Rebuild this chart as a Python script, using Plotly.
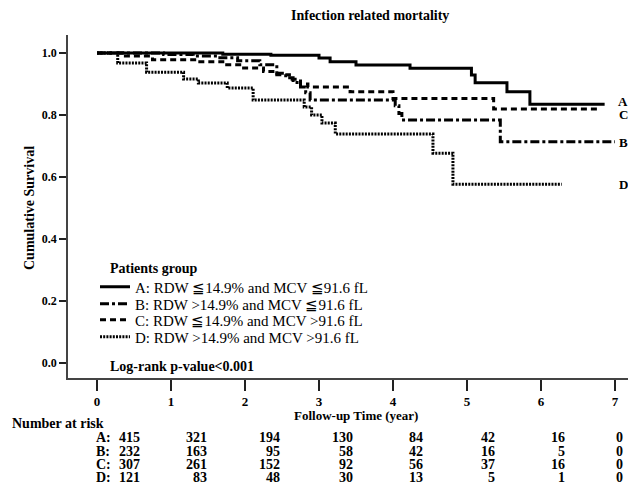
import plotly.graph_objects as go

# ---------------- data ----------------
groups = ["A", "B", "C", "D"]
legend_names = [
    "A: RDW \u226614.9% and MCV \u226691.6 fL",
    "B: RDW >14.9% and MCV \u226691.6 fL",
    "C: RDW \u226614.9% and MCV >91.6 fL",
    "D: RDW >14.9% and MCV >91.6 fL",
]
time_A = [0, 1.7, 2.35, 3.0, 3.15, 3.5, 4.23, 5.06, 5.11, 5.54, 5.85]
surv_A = [1.0, 0.996, 0.993, 0.984, 0.972, 0.961, 0.951, 0.929, 0.904, 0.875, 0.835]
end_A = 6.86

time_B = [0, 0.9, 1.3, 1.6, 1.9, 2.2, 2.43, 2.55, 2.65, 2.75, 2.82, 2.88, 4.03, 4.08, 4.12, 5.45]
surv_B = [1.0, 0.995, 0.99, 0.985, 0.975, 0.962, 0.935, 0.92, 0.905, 0.89, 0.872, 0.848, 0.83, 0.805, 0.784, 0.714]
end_B = 7.0

time_C = [0, 0.35, 0.75, 1.35, 1.7, 1.95, 2.25, 2.4, 2.6, 2.75, 2.85, 3.42, 4.0, 5.36]
surv_C = [1.0, 0.99, 0.978, 0.972, 0.962, 0.952, 0.94, 0.93, 0.915, 0.90, 0.89, 0.875, 0.853, 0.819]
end_C = 6.8

time_D = [0, 0.28, 0.67, 1.17, 1.37, 1.76, 2.11, 2.8, 2.9, 3.04, 3.22, 4.54, 4.81]
surv_D = [1.0, 0.968, 0.938, 0.916, 0.903, 0.887, 0.848, 0.826, 0.80, 0.774, 0.739, 0.677, 0.577]
end_D = 6.28

risk_times = [0, 1, 2, 3, 4, 5, 6, 7]
risk_A = [415, 321, 194, 130, 84, 42, 16, 0]
risk_B = [232, 163, 95, 58, 42, 16, 5, 0]
risk_C = [307, 261, 152, 92, 56, 37, 16, 0]
risk_D = [121, 83, 48, 30, 13, 5, 1, 0]

y_ticks = [0.0, 0.2, 0.4, 0.6, 0.8, 1.0]
x_ticks = [0, 1, 2, 3, 4, 5, 6, 7]

# ---------------- layout helpers ----------------
OFF = 8                      # page body margin of the browser
SW, SH = 636, 500            # screen size
W, H = SW - OFF, SH - 2 * OFF    # figure size (no page scrolling)
# plot area in screen pixels
PL, PR, PT, PB = 68, 630, 35, 378
ML, MR, MT, MB = PL - OFF, (OFF + W) - PR, PT - OFF, (OFF + H) - PB
PW, PH = PR - PL, PB - PT

def px(x):
    return (x - PL) / PW

def py(y):
    return (PB - y) / PH

FONT = "Liberation Serif, Times New Roman, serif"
X0, XS = 97, 74              # screen x of t=0, pixels per year
Y0, YS = 363, 310            # screen y of S=0, pixels per unit

fig = go.Figure()

series = [
    (time_A, surv_A, end_A, "solid"),
    (time_B, surv_B, end_B, "9px,3px,3px,3px"),
    (time_C, surv_C, end_C, "6px,4px"),
    (time_D, surv_D, end_D, "2px,1.2px"),
]
legend_ids = ["legend", "legend2", "legend3", "legend4"]
legend_rows = [287, 304, 320, 337]
for name, (t, s, e, dash), lid in zip(legend_names, series, legend_ids):
    fig.add_trace(go.Scatter(
        x=list(t) + [e], y=list(s) + [s[-1]],
        mode="lines", line=dict(shape="hv", color="black", width=3, dash=dash),
        name=name, hoverinfo="skip", legend=lid,
    ))

legend_common = dict(
    xanchor="left", yanchor="middle", bgcolor="rgba(0,0,0,0)",
    font=dict(family=FONT, size=15, color="black"), itemwidth=30,
)
legend_layout = {}
for lid, yy in zip(legend_ids, legend_rows):
    legend_layout[lid] = dict(x=px(95), y=py(yy), **legend_common)

fig.update_layout(
    width=W, height=H, autosize=False,
    margin=dict(l=ML, r=MR, t=MT, b=MB, pad=0),
    plot_bgcolor="white", paper_bgcolor="white",
    font=dict(family=FONT, color="black"),
    showlegend=True,
    **legend_layout,
)
fig.update_xaxes(
    range=[(PL - X0) / XS, (PR - X0) / XS],
    tickvals=x_ticks, ticktext=[str(v) for v in x_ticks],
    showgrid=False, zeroline=False,
    showline=True, linecolor="#444", linewidth=1.5,
    ticks="outside", ticklen=11, tickwidth=1.5, tickcolor="#222",
    tickfont=dict(family=FONT, size=13, weight="bold"),
)
fig.update_yaxes(
    range=[(Y0 - PB) / YS, (Y0 - PT) / YS],
    tickvals=y_ticks, ticktext=[f"{v:.1f}" for v in y_ticks],
    showgrid=False, zeroline=False,
    showline=True, linecolor="#444", linewidth=1.5,
    ticks="outside", ticklen=7, tickwidth=1.5, tickcolor="#222",
    tickfont=dict(family=FONT, size=12, weight="bold"),
)

ann = []
ann.append(dict(text="<b>Infection related mortality</b>", x=px(370), y=py(16),
                font=dict(size=14)))
ann.append(dict(text="<b>Cumulative Survival</b>", x=px(30), y=py(208),
                textangle=-90, font=dict(size=14)))
ann.append(dict(text="<b>Follow-up Time (year)</b>", x=px(356), y=py(415),
                font=dict(size=13)))
ann.append(dict(text="<b>Number at risk</b>", x=px(10), y=py(423), xanchor="left",
                font=dict(size=14)))
ann.append(dict(text="<b>Patients group</b>", x=px(108), y=py(268), xanchor="left",
                font=dict(size=14)))
ann.append(dict(text="<b>Log-rank p-value<0.001</b>", x=px(108), y=py(366), xanchor="left",
                font=dict(size=14)))
# end labels
for lab, yy in zip(["A", "C", "B", "D"], [101, 114, 142, 184]):
    ann.append(dict(text=f"<b>{lab}</b>", x=px(623), y=py(yy), font=dict(size=13)))

# risk table
col_right = [142, 209, 282, 355, 425, 497, 567, 625]
row_y = [438, 451, 464, 477]
for g, vals, yy in zip(groups, [risk_A, risk_B, risk_C, risk_D], row_y):
    ann.append(dict(text=f"<b>{g}:</b>", x=px(94), y=py(yy), xanchor="left", font=dict(size=14)))
    for cr, v in zip(col_right, vals):
        ann.append(dict(text=f"<b>{v}</b>", x=px(cr), y=py(yy), xanchor="right", font=dict(size=14)))

for a in ann:
    a.setdefault("xref", "paper")
    a.setdefault("yref", "paper")
    a.setdefault("showarrow", False)
    a.setdefault("xanchor", "center")
    a.setdefault("yanchor", "middle")
    a["font"] = dict(family=FONT, color="black", **a.get("font", {}))
fig.update_layout(annotations=ann)

fig.write_html("out.html")
